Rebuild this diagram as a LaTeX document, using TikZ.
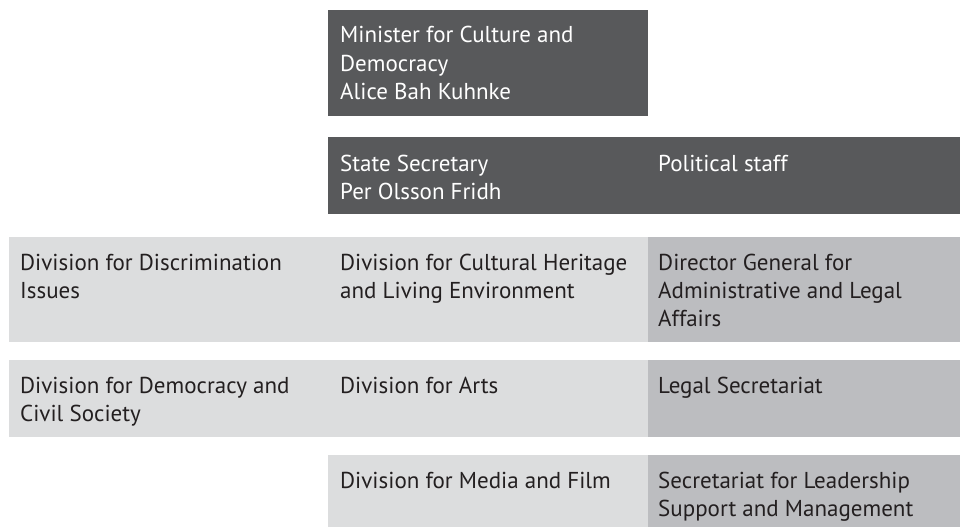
\documentclass[tikz,border=0pt]{standalone}
\usepackage{fontspec}
\setmainfont{PT Sans}
\definecolor{darkbox}{HTML}{58595B}
\definecolor{lightbox}{HTML}{DCDDDE}
\definecolor{midbox}{HTML}{BCBDC0}
\definecolor{inktext}{HTML}{231F20}
\begin{document}
\begin{tikzpicture}[x=1pt,y=-1pt,
  txt/.style={anchor=base west,inner sep=0pt,align=left,font=\fontsize{23}{28}\selectfont},
  wtxt/.style={txt,text=white},
  dtxt/.style={txt,text=inktext}]
\useasboundingbox (0,0) rectangle (960,527);
% boxes
\fill[darkbox] (328,10) rectangle (648,116);
\fill[darkbox] (328,137) rectangle (648,214);
\fill[darkbox] (648,137) rectangle (960,214);
\fill[lightbox] (9,237) rectangle (328,342);
\fill[lightbox] (328,237) rectangle (648,342);
\fill[midbox] (648,237) rectangle (960,342);
\fill[lightbox] (9,360) rectangle (328,437);
\fill[lightbox] (328,360) rectangle (648,437);
\fill[midbox] (648,360) rectangle (960,437);
\fill[lightbox] (328,455) rectangle (648,527);
\fill[midbox] (648,455) rectangle (960,527);
% texts (base anchor = baseline of the last line)
\node[wtxt] (minister) at (340,43+56) {Minister for Culture and\\Democracy\\Alice Bah Kuhnke};
\node[wtxt] (statesec) at (340,171+28) {State Secretary\\Per Olsson Fridh};
\node[wtxt] (polstaff) at (658,171) {Political staff};
\node[dtxt] (discr) at (20,270+28) {Division for Discrimination\\Issues};
\node[dtxt] (heritage) at (340,270+28) {Division for Cultural Heritage\\and Living Environment};
\node[dtxt] (dg) at (658,270+56) {Director General for\\Administrative and Legal\\Affairs};
\node[dtxt] (democ) at (20,393+28) {Division for Democracy and\\Civil Society};
\node[dtxt] (arts) at (340,393) {Division for Arts};
\node[dtxt] (legal) at (658,393) {Legal Secretariat};
\node[dtxt] (media) at (340,488) {Division for Media and Film};
\node[dtxt] (lead) at (658,488+28) {Secretariat for Leadership\\Support and Management};
\end{tikzpicture}
\end{document}
